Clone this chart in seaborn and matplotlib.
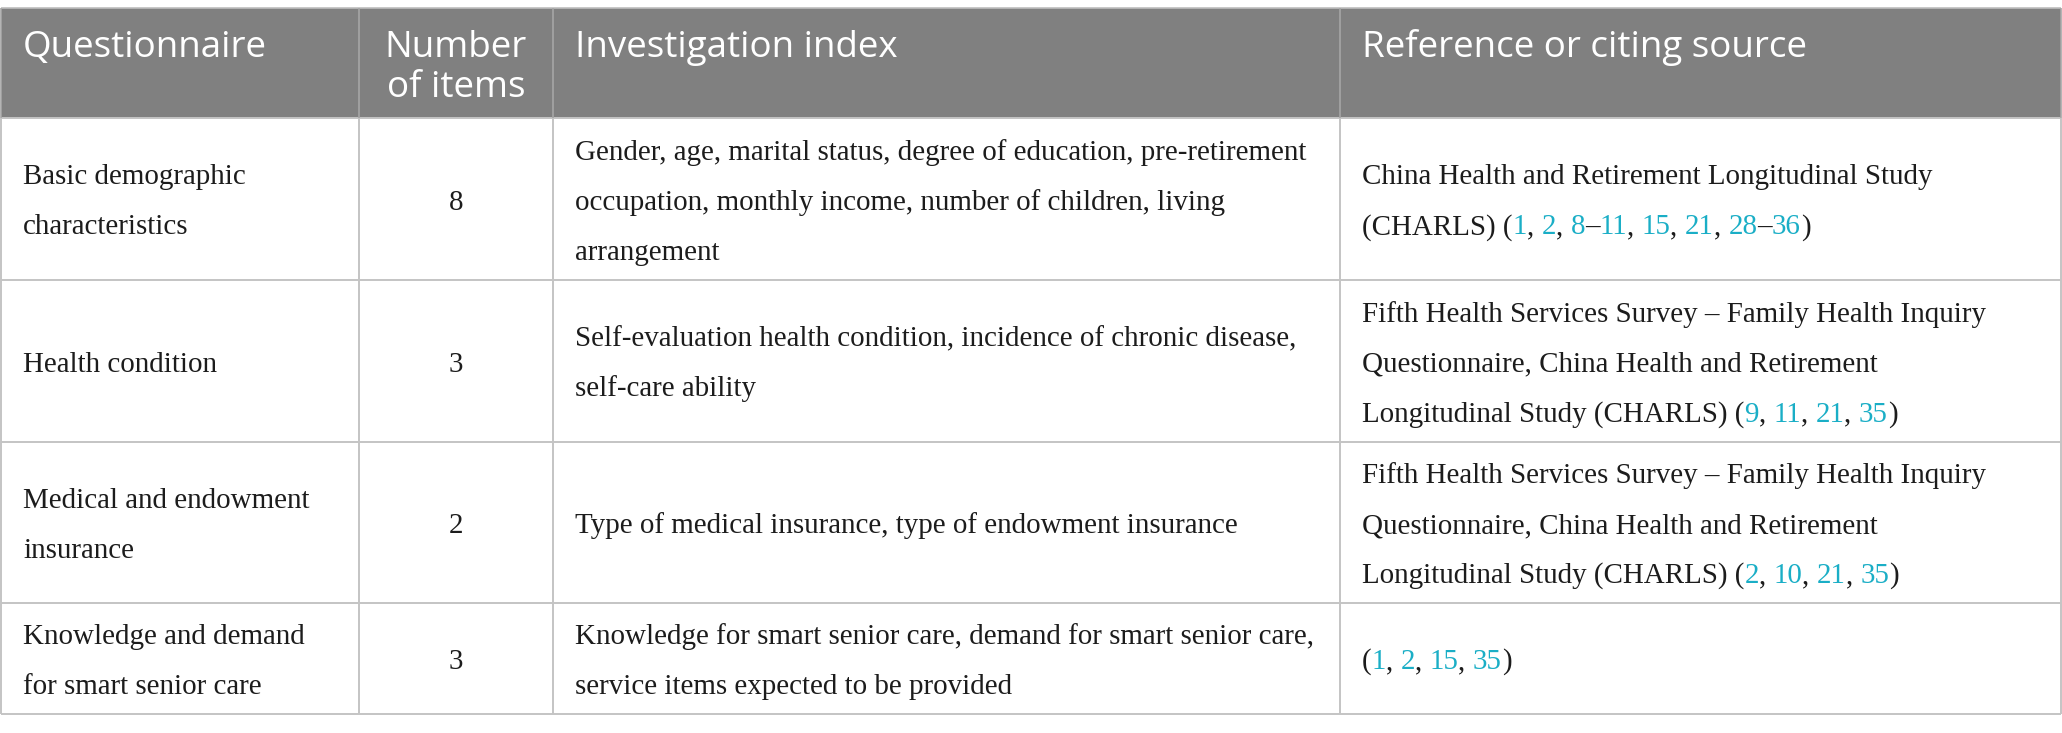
import re
import matplotlib
matplotlib.use("Agg")
import matplotlib.pyplot as plt
from matplotlib.patches import Rectangle
import seaborn as sns

# ---------------- data ----------------
headers = ["Questionnaire", "Number\nof items", "Investigation index",
           "Reference or citing source"]

questionnaire = [
    "Basic demographic\ncharacteristics",
    "Health condition",
    "Medical and endowment\ninsurance",
    "Knowledge and demand\nfor smart senior care",
]

n_items = [8, 3, 2, 3]

investigation_index = [
    "Gender, age, marital status, degree of education, pre-retirement\n"
    "occupation, monthly income, number of children, living\narrangement",
    "Self-evaluation health condition, incidence of chronic disease,\n"
    "self-care ability",
    "Type of medical insurance, type of endowment insurance",
    "Knowledge for smart senior care, demand for smart senior care,\n"
    "service items expected to be provided",
]

reference_source = [
    "China Health and Retirement Longitudinal Study\n"
    "(CHARLS) (1, 2, 8\u201311, 15, 21, 28\u201336)",
    "Fifth Health Services Survey \u2013 Family Health Inquiry\n"
    "Questionnaire, China Health and Retirement\n"
    "Longitudinal Study (CHARLS) (9, 11, 21, 35)",
    "Fifth Health Services Survey \u2013 Family Health Inquiry\n"
    "Questionnaire, China Health and Retirement\n"
    "Longitudinal Study (CHARLS) (2, 10, 21, 35)",
    "(1, 2, 15, 35)",
]

# ---------------- style / layout ----------------
sns.set_theme(style="white")
W, H = 2062, 733
col_edges = [1, 359, 553, 1340, 2061]
row_edges = [8, 118, 280, 442, 603, 714]
pad = 22
header_bg = "#808080"
header_sep = "#a6a6a6"
grid_col = "#c4c4c4"
text_col = "#1c1c1c"
link_col = "#1aaec6"
body_font = ["Liberation Serif", "DejaVu Serif"]
head_font = ["Open Sans", "DejaVu Sans"]
head_size = 26.5
line_gap = 50
head_gap = 40

fig = plt.figure(figsize=(W / 100, H / 100), dpi=100)
ax = fig.add_axes([0, 0, 1, 1])
ax.set_xlim(0, W)
ax.set_ylim(H, 0)
ax.axis("off")
renderer = fig.canvas.get_renderer()


def text_width(s, **kw):
    t = ax.text(0, 0, s + "|", **kw)
    w1 = t.get_window_extent(renderer).width
    t.remove()
    t = ax.text(0, 0, "|", **kw)
    w2 = t.get_window_extent(renderer).width
    t.remove()
    return w1 - w2


# fit body size to the reference line width
probe = investigation_index[0].split("\n")[0]
w20 = text_width(probe, family=body_font, fontsize=20)
body_size = 20 * 733 / w20

# header band
ax.add_patch(Rectangle((col_edges[0], row_edges[0]),
                       col_edges[-1] - col_edges[0], row_edges[1] - row_edges[0],
                       facecolor=header_bg, edgecolor="none", zorder=1))

# grid lines
ax.hlines(row_edges[0], col_edges[0], col_edges[-1], color="#bdbdbd", lw=1.2, zorder=2)
ax.hlines(row_edges[1:], col_edges[0], col_edges[-1], color=grid_col, lw=1.4, zorder=2)
ax.vlines(col_edges[1:-1], row_edges[0], row_edges[1], color=header_sep, lw=1.2, zorder=2)
ax.vlines(col_edges, row_edges[1], row_edges[-1], color=grid_col, lw=1.4, zorder=2)
ax.vlines([col_edges[0], col_edges[-1]], row_edges[0], row_edges[1], color=header_sep,
          lw=1.2, zorder=2)

# header text
for c, htxt in enumerate(headers):
    for i, line in enumerate(htxt.split("\n")):
        y = row_edges[0] + 49 + head_gap * i
        if c == 1:
            x, ha = (col_edges[1] + col_edges[2]) / 2, "center"
        else:
            x, ha = col_edges[c] + pad, "left"
        ax.text(x, y, line, ha=ha, va="baseline", color="white",
                family=head_font, fontsize=head_size, zorder=3)

# body text
columns = [questionnaire, [str(v) for v in n_items], investigation_index, reference_source]
for r in range(len(questionnaire)):
    yc = (row_edges[r + 1] + row_edges[r + 2]) / 2
    for c, col in enumerate(columns):
        lines = col[r].split("\n")
        n = len(lines)
        for i, line in enumerate(lines):
            y = yc + 10.5 + (i - (n - 1) / 2) * line_gap
            kw = dict(va="baseline", family=body_font, fontsize=body_size, zorder=3)
            if c == 1:
                ax.text((col_edges[1] + col_edges[2]) / 2, y, line, ha="center",
                        color=text_col, **kw)
            elif c == 3:
                x0 = col_edges[c] + pad
                parts = re.split(r"(\d+)", line)
                prefix = ""
                for p in parts:
                    if p == "":
                        continue
                    xo = x0 + (text_width(prefix, **kw) if prefix else 0)
                    ax.text(xo, y, p, ha="left",
                            color=link_col if p.isdigit() else text_col, **kw)
                    prefix += p
            else:
                ax.text(col_edges[c] + pad, y, line, ha="left", color=text_col, **kw)

fig.savefig("out.png", dpi=100, facecolor="white")
